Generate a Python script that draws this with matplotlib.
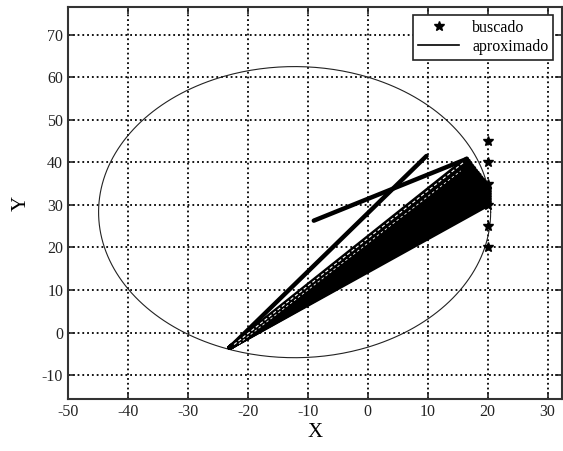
import numpy as np
import matplotlib
matplotlib.use("Agg")
import matplotlib.pyplot as plt

plt.rcParams['font.family'] = ['Liberation Serif', 'DejaVu Serif']
plt.rcParams['axes.unicode_minus'] = False

# puntos buscados (x=20)
buscado_x = [20, 20, 20, 20, 20, 20]
buscado_y = [20, 25, 30, 35, 40, 45]

# elipse (centro, semiejes)
elipse_cx, elipse_cy = -12.2, 28.3
elipse_a, elipse_b = 32.7, 34.2

# trayectoria aproximada: tramos sueltos
tramo1_x = [-9.0, 16.5]
tramo1_y = [26.3, 40.8]
tramo2_x = [-23.0, 9.8]
tramo2_y = [-3.5, 41.5]

# abanico desde el vertice hasta los extremos de la derecha
vertice = (-23.0, -3.5)
abanico_x = [16.5, 16.8, 17.1, 17.4, 17.7, 18.0, 18.3, 18.6, 18.9, 19.2,
             19.5, 19.8, 20.1, 20.3, 20.3, 20.3, 20.3, 20.3, 20.3, 20.3]
abanico_y = [40.8, 40.3, 39.7, 39.1, 38.6, 38.0, 37.5, 37.0, 36.4, 35.9,
             35.4, 34.9, 34.4, 33.8, 33.2, 32.6, 32.0, 31.4, 30.8, 30.3]

fig = plt.figure(figsize=(5.63, 4.51), dpi=100)
ax = fig.add_axes([0.1208, 0.1153, 0.8774, 0.8692])

t = np.linspace(0, 2 * np.pi, 400)
ax.plot(elipse_cx + elipse_a * np.cos(t), elipse_cy + elipse_b * np.sin(t),
        color='#222222', lw=0.8)

for ex, ey in zip(abanico_x, abanico_y):
    ax.plot([vertice[0], ex], [vertice[1], ey], color='black', lw=3.5,
            solid_capstyle='round')
ax.plot(tramo2_x, tramo2_y, color='black', lw=3.2, solid_capstyle='round')
ax.plot(tramo1_x, tramo1_y, color='black', lw=3.2, solid_capstyle='round')
ax.plot([-22.3, 16.0], [-2.8, 40.0], color='white', lw=0.8, ls=(0, (3, 2)))
ax.plot([-21.5, 15.5], [-2.6, 38.0], color='white', lw=0.6, ls=(0, (3, 3)))

ax.plot(buscado_x, buscado_y, ls='none', marker='*', ms=7, color='black',
        label='buscado')
ax.plot([], [], color='black', lw=1.2, label='aproximado')

ax.set_xlim(-50, 32.4)
ax.set_ylim(-15.6, 76.5)
ax.set_xticks(range(-50, 31, 10))
ax.set_yticks(range(-10, 71, 10))
ax.grid(True, color='black', ls=':', lw=1.3)
ax.tick_params(direction='in', top=True, right=True, length=5, width=1.2,
               labelsize=11.5, colors='#222222')
for s in ax.spines.values():
    s.set_linewidth(1.5)
    s.set_color('#333333')

ax.set_xlabel('X', fontsize=15, labelpad=2)
ax.set_ylabel('Y', fontsize=15, labelpad=8)

leg = ax.legend(loc='upper right', bbox_to_anchor=(0.982, 0.98),
                borderaxespad=0, fontsize=11.5, fancybox=False,
                edgecolor='#222222', framealpha=1, handlelength=2.6,
                borderpad=0.3, labelspacing=0.2)
leg.get_frame().set_linewidth(1.2)

fig.savefig('out.png', dpi=100)
